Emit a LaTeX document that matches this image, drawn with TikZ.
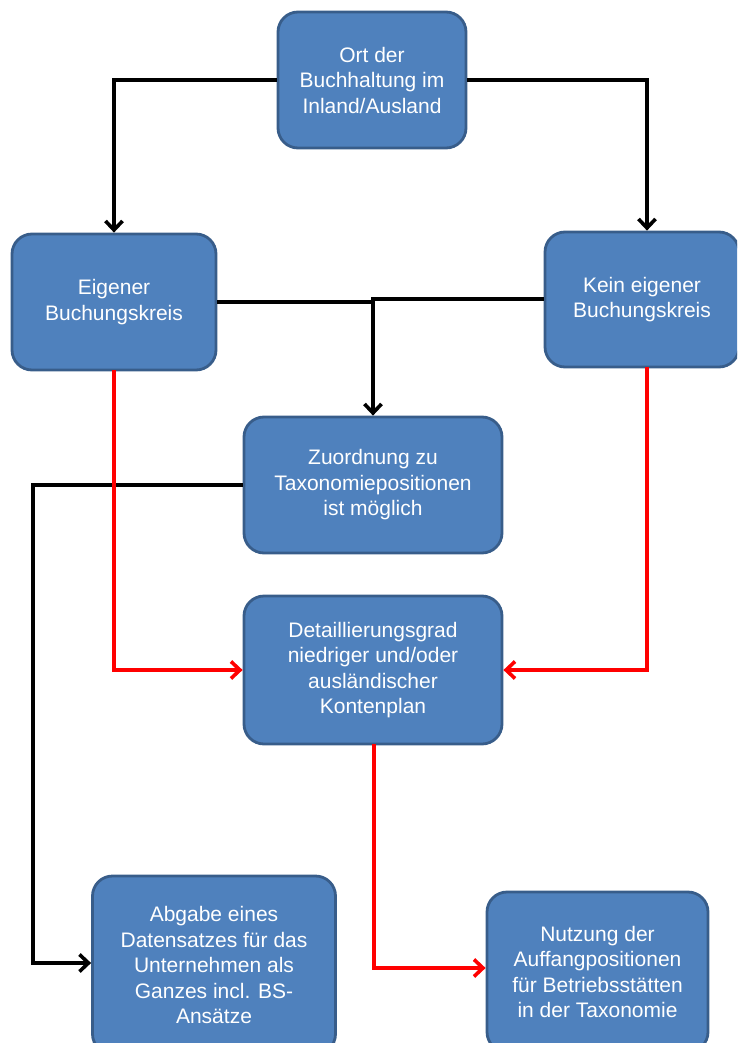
\documentclass[tikz,border=0pt]{standalone}
\usepackage{fontspec}
\setmainfont{Liberation Sans}
\usetikzlibrary{arrows.meta}
\definecolor{boxfill}{HTML}{4F81BD}
\definecolor{boxline}{HTML}{385D8A}
\definecolor{redline}{HTML}{FF0000}
\begin{document}
\begin{tikzpicture}[x=1pt,y=-1pt,
  box/.style={draw=boxline, fill=boxfill, line width=2.8pt, rounded corners=20pt,
    text=white, align=center, inner sep=0pt,
    font=\fontsize{21}{25.5}\selectfont},
  blk/.style={draw=black, line width=3.6pt, -{Straight Barb[length=9pt,width=17pt,line width=3.6pt]}},
  nob/.style={draw=black, line width=3.6pt},
  red/.style={draw=redline, line width=3.6pt, -{Straight Barb[length=9pt,width=17pt,line width=3.6pt]}}]
\useasboundingbox (0,0) rectangle (737,1043);
\clip (0,0) rectangle (737,1043);
% boxes
\node[box, minimum width=188pt, minimum height=136pt] (A) at (372,80) {Ort der\\Buchhaltung im\\Inland/Ausland};
\node[box, minimum width=204pt, minimum height=136pt] (B) at (114,302) {Eigener\\Buchungskreis};
\node[box, minimum width=194pt, minimum height=135pt] (C) at (642,299.5) {Kein eigener\\Buchungskreis};
\node[box, minimum width=258pt, minimum height=136pt] (D) at (373,485) {Zuordnung zu\\Taxonomiepositionen\\ist möglich};
\node[box, minimum width=258pt, minimum height=148pt] (E) at (373,670) {Detaillierungsgrad\\niedriger und/oder\\ausländischer\\Kontenplan};
\node[box, minimum width=243pt, minimum height=178pt] (F) at (214,965) {Abgabe eines\\Datensatzes für das\\Unternehmen als\\Ganzes incl. BS-\\Ansätze};
\node[box, minimum width=221pt, minimum height=160pt] (G) at (597.5,972) {Nutzung der\\Auffangpositionen\\für Betriebsstätten\\in der Taxonomie};
% coordinates
\coordinate (a1) at (114,80);
\coordinate (a2) at (647,80);
\coordinate (j1) at (373,302);
\coordinate (j2) at (373,299);
\coordinate (d1) at (33,485);
\coordinate (d2) at (33,963);
\coordinate (r1) at (114,670);
\coordinate (r2) at (647,670);
\coordinate (r3) at (374,968);
% black connectors
\draw[blk] (A.west) -- (a1) -- (a1 |- B.north);
\draw[blk] (A.east) -- (a2) -- (a2 |- C.north);
\draw[nob] (B.east |- j1) -- (j1);
\draw[blk] (C.west |- j2) -- (j2) -- (j2 |- D.north);
\draw[blk] (D.west) -- (d1) -- (d2) -- (F.west |- d2);
% red connectors
\draw[red] (114,370) -- (r1) -- (E.west |- r1);
\draw[red] (647,367) -- (r2) -- (E.east |- r2);
\draw[red] (374,744) -- (r3) -- (G.west |- r3);
\end{tikzpicture}
\end{document}
